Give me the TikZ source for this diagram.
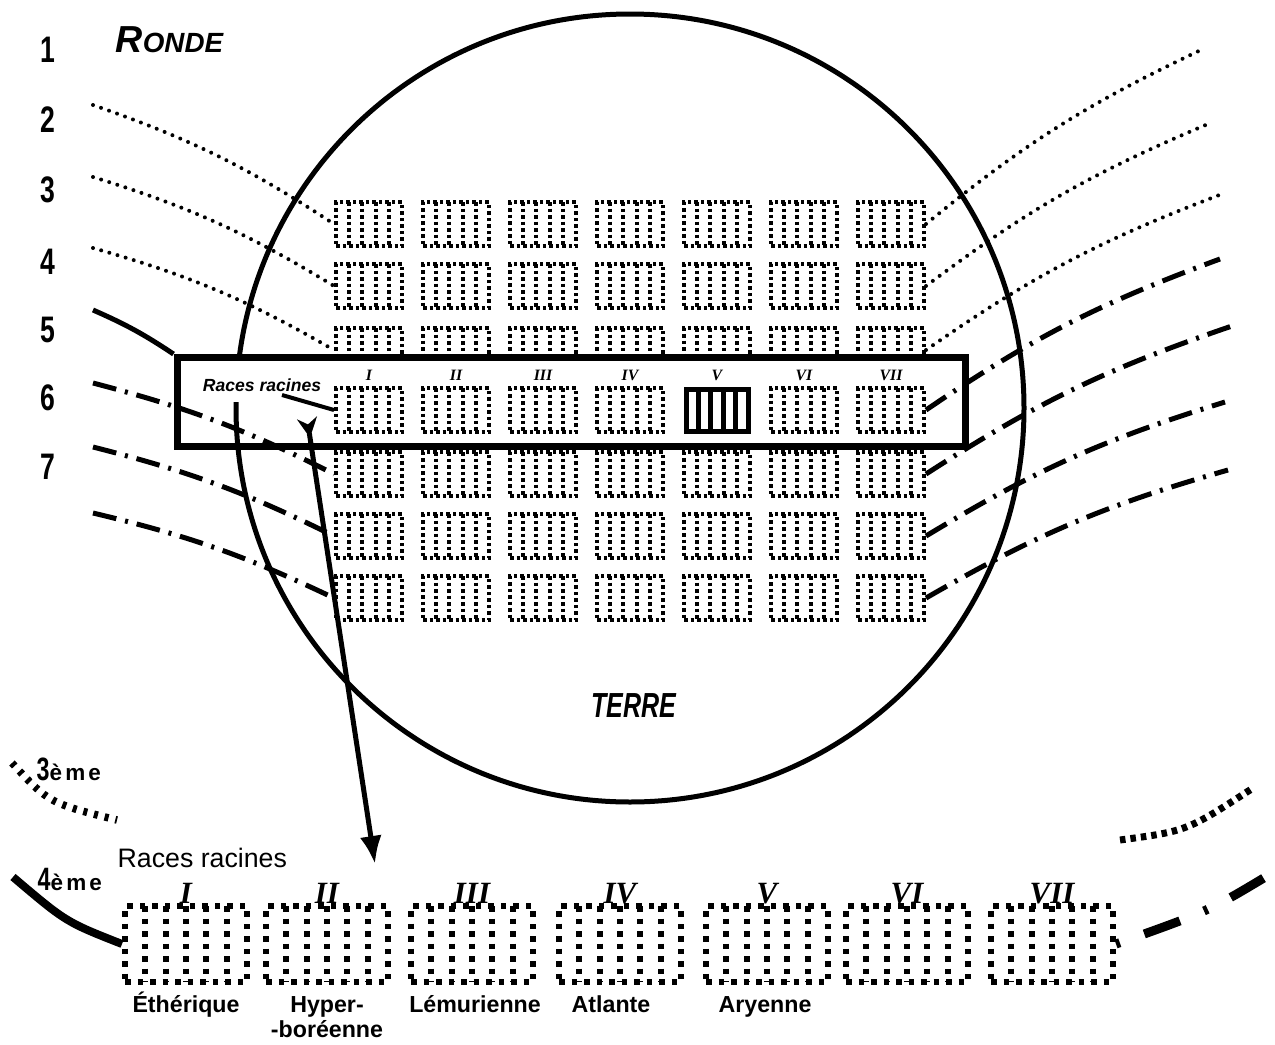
\documentclass[tikz,border=0pt]{standalone}
\usepackage{fontspec}
\setmainfont{Liberation Sans}
\newfontfamily\narrowsans[FakeStretch=0.72]{Liberation Sans}
\newfontfamily\spacedsans[LetterSpace=14]{Liberation Sans}
\newfontfamily\romanserif{Liberation Serif}
\usetikzlibrary{arrows.meta,positioning,calc}
\tikzset{
  rackdot/.style={line width=0.4mm,dash pattern=on 0.35mm off 0.3mm},
  bigdot/.style={line width=0.6mm,dash pattern=on 0.55mm off 0.7mm},
  rackcols/.style n args={2}{path picture={
    \foreach \k [evaluate=\k as \f using \k/(#1+1)] in {1,...,#1}
      \draw[#2] ($(path picture bounding box.north west)!\f!(path picture bounding box.north east)$)
        -- ($(path picture bounding box.south west)!\f!(path picture bounding box.south east)$);}},
  smallrack/.style={draw,rackdot,minimum width=6.6mm,minimum height=4.4mm,inner sep=0pt,rackcols={4}{rackdot}},
  boldrack/.style={draw,line width=0.5mm,minimum width=6.2mm,minimum height=4.2mm,inner sep=0pt,rackcols={4}{line width=0.5mm}},
  bigrack/.style={draw,bigdot,minimum width=12.2mm,minimum height=7.6mm,inner sep=0pt,rackcols={5}{bigdot}},
  earthnode/.style={circle,draw,line width=0.5mm,minimum size=78.8mm,inner sep=0pt},
  focusbox/.style={draw,line width=0.7mm,minimum width=78.8mm,minimum height=8.9mm,inner sep=0pt,
    path picture={\fill[white] (path picture bounding box.north west) rectangle (path picture bounding box.east);}},
  dotpath/.style={line width=0.4mm,line cap=round,dash pattern=on 0pt off 0.85mm},
  dashdotpath/.style={line width=0.5mm,dash pattern=on 2.4mm off 0.9mm on 0.3mm off 0.9mm},
  solidpath/.style={line width=0.5mm},
  rowlabel/.style={font=\narrowsans\bfseries\fontsize{10.5}{12}\selectfont,inner sep=0pt},
  titlelabel/.style={font=\narrowsans\bfseries\itshape\fontsize{9.9}{11}\selectfont,inner sep=0pt},
  tinyroman/.style={font=\romanserif\bfseries\itshape\fontsize{4.5}{5}\selectfont,inner sep=0pt},
  bigroman/.style={font=\romanserif\bfseries\itshape\fontsize{8.8}{10}\selectfont,inner sep=0pt,anchor=base},
  racelabel/.style={font=\bfseries\fontsize{6.6}{7}\selectfont,inner sep=0pt,anchor=base},
  ordlabel/.style={font=\narrowsans\bfseries\fontsize{9.2}{10}\selectfont,inner sep=0pt,anchor=base west},
  linkarrow/.style={line width=0.5mm,{Stealth[reversed,length=2mm,width=2mm]}-{Latex[length=2.8mm,width=2.2mm]}},
  thirdleft/.style={line width=0.75mm,dash pattern=on 0.4mm off 0.7mm},
  thirdright/.style={line width=0.7mm,dash pattern=on 0.55mm off 0.5mm},
  fourthleft/.style={line width=0.8mm},
  fourthright/.style={line width=0.9mm,dash pattern=on 0.4mm off 2.6mm on 3.8mm off 2.6mm}
}
\newcommand{\emesuffix}{{\spacedsans\bfseries\fontsize{6.4}{7}\selectfont ème}}

\begin{document}
\begin{tikzpicture}[x=0.1mm,y=-0.1mm]
  \useasboundingbox (0,0) rectangle (1275,1044);
  % the earth
  \node[earthnode] (earth) at (630,408) {};
  \node[titlelabel] (terre) at (634,706) {TERRE};
  \node[anchor=base west,inner sep=0pt,font=\bfseries\itshape] (ronde) at (115,52)
    {\fontsize{10.7}{12}\selectfont R\fontsize{7.9}{9}\selectfont ONDE};
  \foreach \n/\y in {1/50,2/120,3/190,4/262,5/330,6/398,7/467}
    \node[rowlabel] (n\n) at (48,\y) {\n};
  % rows above the focus
  \foreach \r/\y in {1/224,2/286,3/350}
    \foreach \c/\x in {1/369,2/456,3/543,4/630,5/717,6/804,7/891}
      \node[smallrack] (r\r-\c) at (\x,\y) {};
  \node[focusbox] (focus) at (571,402) {};
  % focused row
  \foreach \c/\x in {1/369,2/456,3/543,4/630,6/804,7/891}
    \node[smallrack] (r4-\c) at (\x,410) {};
  \node[boldrack] (r4-5) at (717,410) {};
  \foreach \c/\t in {1/I,2/II,3/III,4/IV,5/V,6/VI,7/VII}
    \node[tinyroman,above=0.5mm of r4-\c] (t\c) {\t};
  \node[font=\bfseries\itshape\fontsize{5}{6}\selectfont,fill=white,inner sep=1pt] (boxlbl) at (262,385) {Races racines};
  \coordinate (lblfoot) at (282,395);
  \draw[line width=0.4mm] (lblfoot) -- (r4-1.west);
  % rows below the focus
  \foreach \r/\y in {5/474,6/536,7/598}
    \foreach \c/\x in {1/369,2/456,3/543,4/630,5/717,6/804,7/891}
      \node[smallrack] (r\r-\c) at (\x,\y) {};
  % left arcs
  \foreach \k/\y in {2/105,3/177,4/248,5/310,6/383,7/447,8/513}
    \coordinate (ls\k) at (93,\y);
  \draw[dotpath] (ls2) to[bend left=7] (r1-1.west);
  \draw[dotpath] (ls3) to[bend left=7] (r2-1.west);
  \draw[dotpath] (ls4) to[bend left=7] (r3-1.west);
  \draw[solidpath] (ls5) to[bend left=5] (focus.north west);
  \draw[dashdotpath] (ls6) to[bend left=6] (r5-1.west);
  \draw[dashdotpath] (ls7) to[bend left=6] (r6-1.west);
  \draw[dashdotpath] (ls8) to[bend left=6] (r7-1.west);
  % right arcs
  \foreach \r/\x/\y in {1/1203/49,2/1208/124,3/1222/194,4/1220/259,5/1232/326,6/1225/402,7/1228/470}
    \coordinate (re\r) at (\x,\y);
  \foreach \r in {1,2,3}
    \draw[dotpath] (r\r-7.east) to[bend left=7] (re\r);
  \foreach \r in {4,5,6,7}
    \draw[dashdotpath] (r\r-7.east) to[bend left=7] (re\r);
  % zoom arrow
  \coordinate (arrtail) at (307,418);
  \coordinate (arrtip) at (375,864);
  \draw[linkarrow] (arrtail) -- (arrtip);
  % root races
  \node[anchor=base west,inner sep=0pt,font=\fontsize{7.6}{9}\selectfont] (rootlbl) at (117,867) {Races racines};
  \foreach \i/\x/\t in {1/186/I,2/327/II,3/472/III,4/620/IV,5/767/V,6/907/VI,7/1052/VII}{
    \node[bigrack] (b\i) at (\x,944) {};
    \node[bigroman] (bn\i) at (b\i.north) {\t};
  }
  \node[racelabel] (eth) at (186,1012) {Éthérique};
  \node[racelabel] (hyp) at (327,1012) {Hyper-};
  \node[racelabel] (bor) at (327,1037) {-boréenne};
  \node[racelabel] (lem) at (475,1012) {Lémurienne};
  \node[racelabel] (atl) at (611,1012) {Atlante};
  \node[racelabel] (ary) at (765,1012) {Aryenne};
  % rounds
  \node[ordlabel] (third) at (36,780) {3\emesuffix};
  \node[ordlabel] (fourth) at (37,890) {4\emesuffix};
  \coordinate (a3s) at (12,763);
  \coordinate (a3e) at (117,820);
  \draw[thirdleft] (a3s) .. controls (49,803) .. (a3e);
  \coordinate (a4s) at (13,877);
  \draw[fourthleft] (a4s) .. controls (66,922) .. (b1.west);
  \coordinate (a3r) at (1120,840);
  \coordinate (a3f) at (1253,788);
  \draw[thirdright] (a3r) .. controls (1187,831) .. (a3f);
  \coordinate (a4f) at (1272,873);
  \draw[fourthright] (b7.east) .. controls (1209,911) .. (a4f);
\end{tikzpicture}
\end{document}
